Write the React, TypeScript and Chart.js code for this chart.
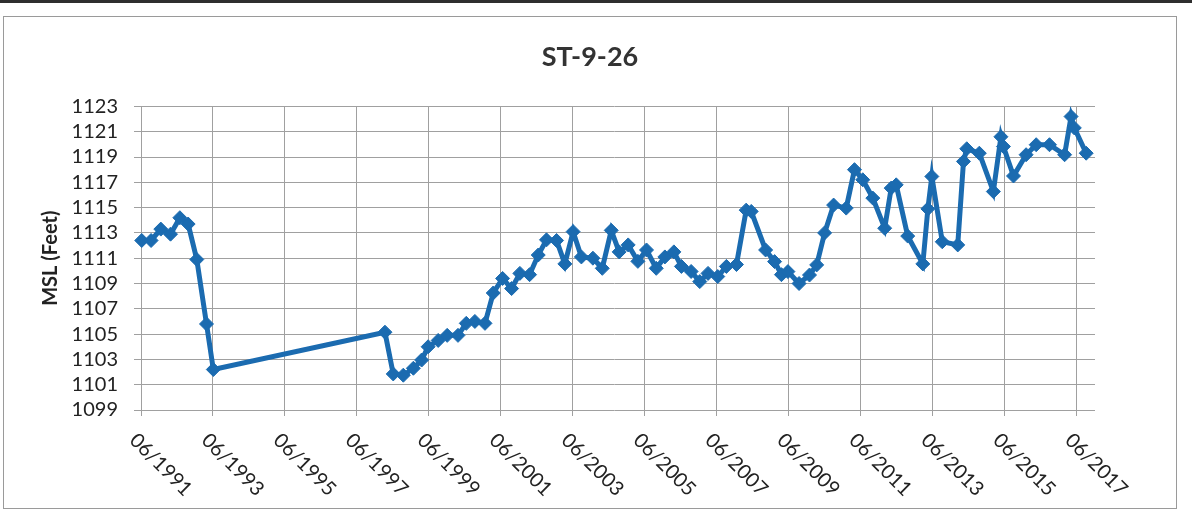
import React, { useEffect, useRef } from "react";
import { Chart, registerables } from "chart.js";

Chart.register(...registerables);

// Sample dates as decimal years, and water levels (ft MSL)
const sampleYears = [
  1991.52, 1991.78, 1992.05, 1992.32, 1992.58, 1992.81, 1993.05, 1993.32, 1993.51,
  1998.28, 1998.51, 1998.79, 1999.07, 1999.3, 1999.48, 1999.76, 2000.01, 2000.31,
  2000.54, 2000.78, 2001.06, 2001.29, 2001.55, 2001.8, 2002.03, 2002.3, 2002.54,
  2002.77, 2003.05, 2003.28, 2003.51, 2003.74, 2004.06, 2004.32, 2004.57, 2004.79,
  2005.04, 2005.31, 2005.55, 2005.82, 2006.06, 2006.31, 2006.52, 2006.79, 2007.03,
  2007.26, 2007.53, 2007.77, 2008.05, 2008.32, 2008.46, 2008.86, 2009.11, 2009.3,
  2009.48, 2009.79, 2010.08, 2010.28, 2010.5, 2010.75, 2011.1, 2011.33, 2011.56,
  2011.84, 2012.17, 2012.35, 2012.49, 2012.81, 2013.23, 2013.37, 2013.48, 2013.77,
  2014.2, 2014.36, 2014.45, 2014.8, 2015.19, 2015.4, 2015.47, 2015.75, 2016.1,
  2016.38, 2016.75, 2017.17, 2017.35, 2017.44, 2017.77,
];

const levelsFt = [
  1112.4, 1112.4, 1113.3, 1112.9, 1114.2, 1113.7, 1110.9, 1105.8, 1102.2,
  1105.15, 1101.85, 1101.75, 1102.3, 1102.95, 1104.0, 1104.5, 1104.9, 1104.9,
  1105.85, 1106.0, 1105.85, 1108.25, 1109.4, 1108.6, 1109.8, 1109.7, 1111.25,
  1112.45, 1112.4, 1110.55, 1113.1, 1111.1, 1111.0, 1110.2, 1113.2, 1111.5,
  1112.05, 1110.75, 1111.65, 1110.2, 1111.1, 1111.5, 1110.35, 1109.95, 1109.15,
  1109.8, 1109.55, 1110.35, 1110.5, 1114.8, 1114.7, 1111.65, 1110.73, 1109.7,
  1109.94, 1109.0, 1109.67, 1110.47, 1113.0, 1115.2, 1114.96, 1118.0, 1117.2,
  1115.75, 1113.37, 1116.54, 1116.8, 1112.75, 1110.55, 1114.9, 1117.46, 1112.3,
  1112.05, 1118.65, 1119.65, 1119.3, 1116.27, 1120.6, 1119.83, 1117.5, 1119.18,
  1119.97, 1119.97, 1119.18, 1122.2, 1121.3, 1119.3,
];

const xTickYears = [
  1991.5, 1993.5, 1995.5, 1997.5, 1999.5, 2001.5, 2003.5, 2005.5, 2007.5,
  2009.5, 2011.5, 2013.5, 2015.5, 2017.5,
];
const xTickLabels = [
  "06/1991", "06/1993", "06/1995", "06/1997", "06/1999", "06/2001", "06/2003",
  "06/2005", "06/2007", "06/2009", "06/2011", "06/2013", "06/2015", "06/2017",
];

const xMin = 1991.305;
const xMax = 2018.015;
const yMin = 1099;
const yMax = 1123;
const yStep = 2;

const chartTitle = "ST-9-26";
const yAxisTitle = "MSL (Feet)";

const FONT = "Lato, 'Open Sans', sans-serif";
const LINE_BLUE = "#1b6bb0";
const GRID = "#a0a0a0";

const rotatedXLabels = {
  id: "rotatedXLabels",
  afterDraw(chart: any) {
    const xs = chart.scales.x;
    const { ctx, chartArea } = chart;
    ctx.save();
    ctx.font = `20px ${FONT}`;
    ctx.fillStyle = "#222";
    ctx.textAlign = "left";
    ctx.textBaseline = "middle";
    xTickYears.forEach((v, i) => {
      const px = xs.getPixelForValue(v);
      ctx.save();
      ctx.translate(px - 8, chartArea.bottom + 27);
      ctx.rotate(Math.PI / 4);
      ctx.fillText(xTickLabels[i], 0, 0);
      ctx.restore();
    });
    ctx.restore();
  },
};

export default function App() {
  const canvasRef = useRef<HTMLCanvasElement | null>(null);

  useEffect(() => {
    if (!canvasRef.current) return;
    const points = sampleYears.map((x, i) => ({ x, y: levelsFt[i] }));
    const chart = new Chart(canvasRef.current, {
      type: "scatter",
      data: {
        datasets: [
          {
            data: points,
            showLine: true,
            borderColor: LINE_BLUE,
            backgroundColor: LINE_BLUE,
            borderWidth: 5,
            pointStyle: "rectRot",
            pointRadius: 7,
            pointBackgroundColor: LINE_BLUE,
            pointBorderColor: LINE_BLUE,
            pointBorderWidth: 1,
            tension: 0,
          },
        ],
      },
      options: {
        responsive: false,
        animation: false,
        devicePixelRatio: 1,
        layout: { padding: 0 },
        plugins: {
          legend: { display: false },
          tooltip: { enabled: false },
          title: {
            display: true,
            text: chartTitle,
            color: "#333",
            font: { family: FONT, size: 27, weight: "bold" },
            padding: { top: 24, bottom: 33 },
          },
        },
        scales: {
          x: {
            type: "linear",
            min: xMin,
            max: xMax,
            afterBuildTicks: (scale: any) => {
              scale.ticks = xTickYears.map((v) => ({ value: v }));
            },
            afterFit: (scale: any) => {
              scale.height = 98;
            },
            ticks: { display: false },
            grid: {
              color: GRID,
              lineWidth: 1,
              drawTicks: true,
              tickLength: 6,
            },
            border: { display: false },
          },
          y: {
            type: "linear",
            position: "left",
            min: yMin,
            max: yMax,
            afterFit: (scale: any) => {
              scale.width = 130;
            },
            ticks: {
              stepSize: yStep,
              autoSkip: false,
              color: "#222",
              padding: 16,
              font: { family: FONT, size: 20 },
              callback: (v: any) => String(v),
            },
            grid: { color: GRID, lineWidth: 1, drawTicks: false },
            border: { display: false },
            title: {
              display: true,
              text: yAxisTitle,
              color: "#222",
              font: { family: FONT, size: 20, weight: "bold" },
              padding: { top: 35, bottom: 0 },
            },
          },
          yRight: {
            type: "linear",
            position: "right",
            min: yMin,
            max: yMax,
            afterFit: (scale: any) => {
              scale.width = 81;
            },
            ticks: { display: false },
            grid: { display: false, drawOnChartArea: false },
            border: { display: false },
          },
        },
      },
      plugins: [rotatedXLabels],
    } as any);
    return () => chart.destroy();
  }, []);

  return (
    <div
      style={{
        position: "absolute",
        left: 0,
        top: 0,
        width: 1192,
        height: 510,
        background: "#fff",
        overflow: "hidden",
      }}
    >
      <div
        style={{
          position: "absolute",
          left: 0,
          top: 0,
          width: 1192,
          height: 3,
          background: "#2e2e2e",
        }}
      />
      <div
        style={{
          position: "absolute",
          left: 3,
          top: 16,
          width: 1174,
          height: 493,
          boxSizing: "border-box",
          border: "1px solid #9a9a9a",
        }}
      >
        <canvas ref={canvasRef} width={1172} height={491} style={{ display: "block" }} />
      </div>
    </div>
  );
}
